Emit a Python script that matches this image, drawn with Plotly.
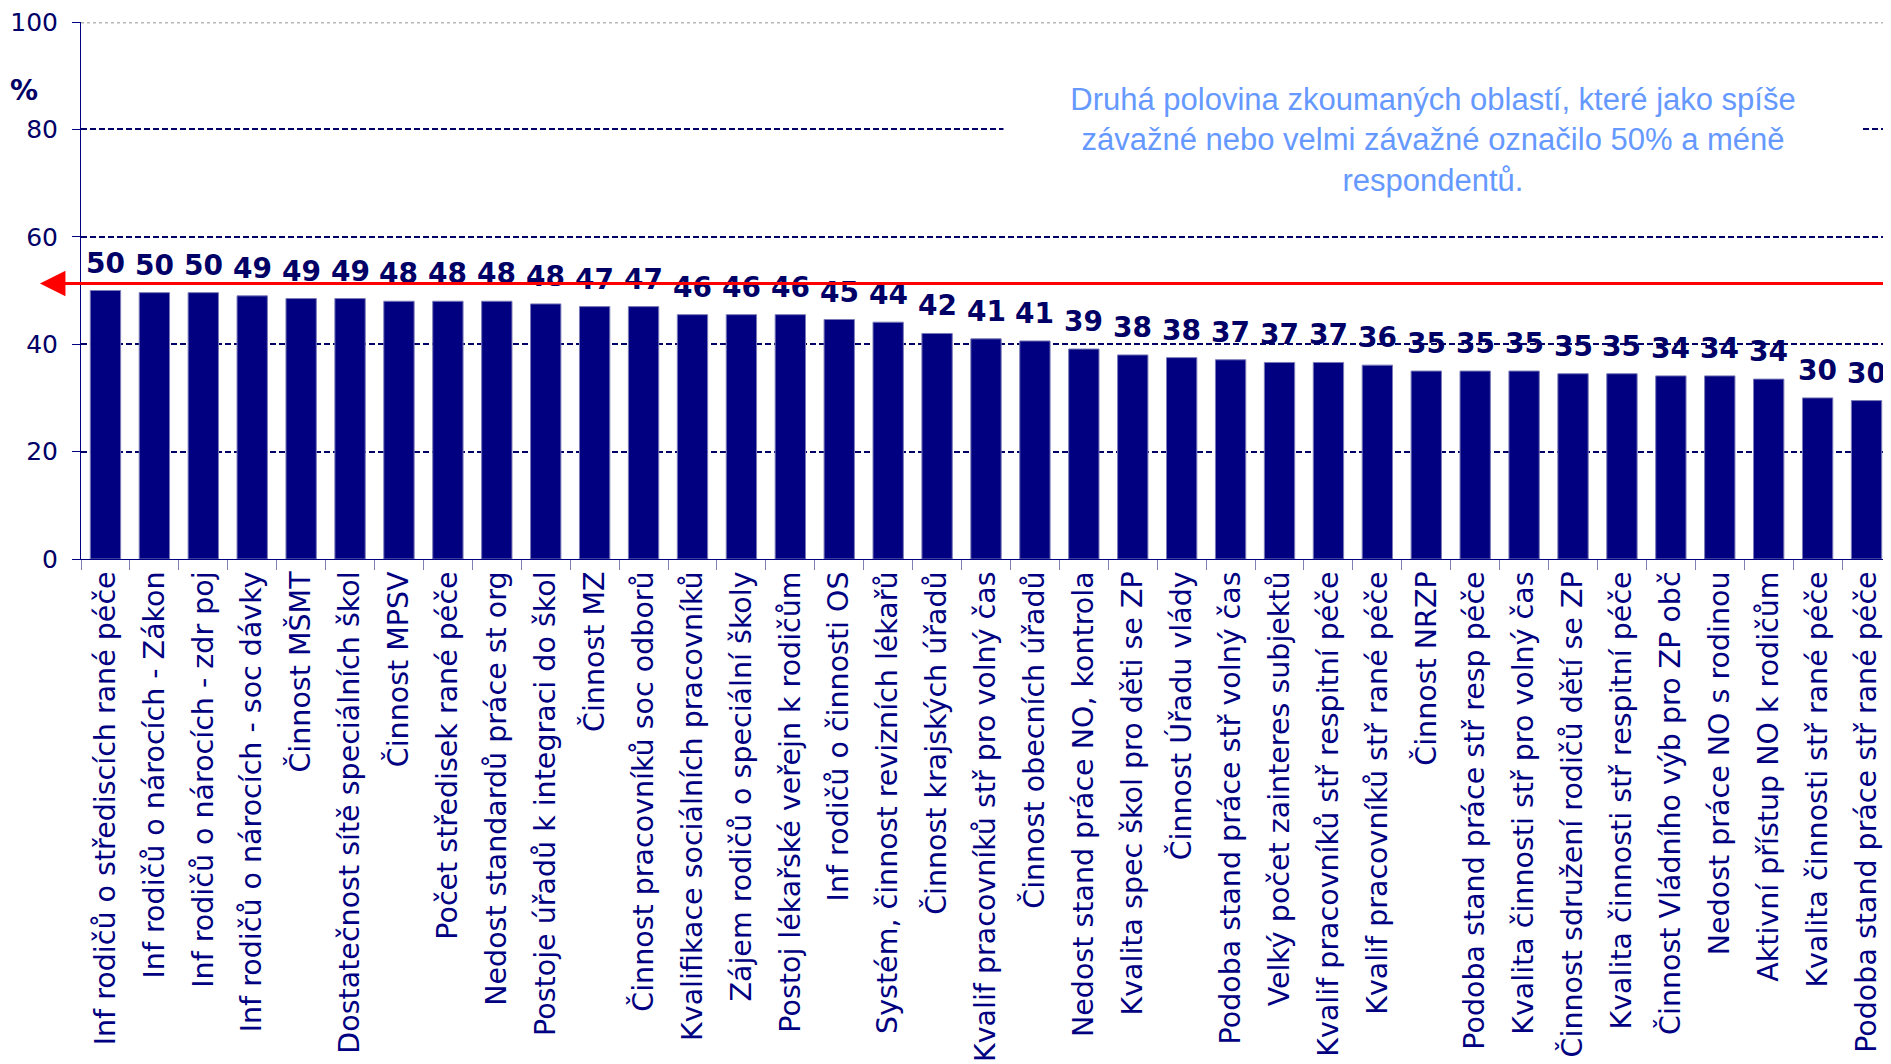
import plotly.graph_objects as go

categories = [
    "Inf rodičů o střediscích rané péče",
    "Inf rodičů o nárocích - Zákon",
    "Inf rodičů o nárocích - zdr poj",
    "Inf rodičů o nárocích - soc dávky",
    "Činnost MŠMT",
    "Dostatečnost sítě speciálních škol",
    "Činnost MPSV",
    "Počet středisek rané péče",
    "Nedost standardů práce st org",
    "Postoje úřadů k integraci do škol",
    "Činnost MZ",
    "Činnost pracovníků soc odborů",
    "Kvalifikace sociálních pracovníků",
    "Zájem rodičů o speciální školy",
    "Postoj lékařské veřejn k rodičům",
    "Inf rodičů o činnosti OS",
    "Systém, činnost revizních lékařů",
    "Činnost krajských úřadů",
    "Kvalif pracovníků stř pro volný čas",
    "Činnost obecních úřadů",
    "Nedost stand práce NO, kontrola",
    "Kvalita spec škol pro děti se ZP",
    "Činnost Úřadu vlády",
    "Podoba stand práce stř volný čas",
    "Velký počet zainteres subjektů",
    "Kvalif pracovníků stř respitní péče",
    "Kvalif pracovníků stř rané péče",
    "Činnost NRZP",
    "Podoba stand práce stř resp péče",
    "Kvalita činnosti stř pro volný čas",
    "Činnost sdružení rodičů dětí se ZP",
    "Kvalita činnosti stř respitní péče",
    "Činnost Vládního výb pro ZP obč",
    "Nedost práce NO s rodinou",
    "Aktivní přístup NO k rodičům",
    "Kvalita činnosti stř rané péče",
    "Podoba stand práce stř rané péče",
]

values = [50.0, 49.6, 49.6, 49.0, 48.5, 48.5, 48.0, 48.0, 48.0, 47.5, 47.0, 47.0,
          45.5, 45.5, 45.5, 44.6, 44.1, 42.0, 41.0, 40.6, 39.1, 38.0, 37.5, 37.1,
          36.6, 36.6, 36.1, 35.0, 35.0, 35.0, 34.5, 34.5, 34.1, 34.1, 33.5, 30.0, 29.5]

value_labels = [50, 50, 50, 49, 49, 49, 48, 48, 48, 48, 47, 47, 46, 46, 46, 45, 44,
                42, 41, 41, 39, 38, 38, 37, 37, 37, 36, 35, 35, 35, 35, 35, 34, 34,
                34, 30, 30]

y_ticks = [0, 20, 40, 60, 80, 100]
threshold = 51.3

note_text = ("Druhá polovina zkoumaných oblastí, které jako spíše<br>"
             "závažné nebo velmi závažné označilo 50% a méně<br>"
             "respondentů.")

NAVY = "#000080"
LABEL = "#000066"

fig = go.Figure()
fig.add_trace(go.Bar(
    x=categories, y=values,
    marker=dict(color=NAVY, line=dict(color="#7a7ab8", width=1)),
    hoverinfo="x+y",
))

for c, v, lab in zip(categories, values, value_labels):
    fig.add_annotation(
        x=c, y=v, xref="x", yref="y", text=str(lab), showarrow=False,
        yanchor="bottom", yshift=9,
        font=dict(family="DejaVu Sans", size=28, color=LABEL, weight="bold"),
    )

# top border line at 100
fig.add_shape(type="line", xref="paper", yref="y", x0=0, x1=1, y0=100, y1=100,
              line=dict(color="#b8b8b8", width=3, dash="dot"), layer="above")

# red threshold arrow
fig.add_annotation(
    x=-0.0227, y=threshold, xref="paper", yref="y",
    ax=1860, ay=0, axref="pixel", ayref="pixel",
    showarrow=True, arrowhead=2, arrowsize=1.7, arrowwidth=3, arrowcolor="#ff0000",
    text="",
)

# note box
fig.add_annotation(
    x=0.747, y=0.781, xref="paper", yref="paper", text=note_text, showarrow=False,
    xanchor="center", yanchor="middle",
    align="center", bgcolor="white", width=850, borderpad=4,
    font=dict(family="Liberation Sans, Arial", size=31, color="#6699ff"),
)

# % label
fig.add_annotation(
    x=-0.0315, y=0.872, xref="paper", yref="paper", text="%", showarrow=False,
    xanchor="center", yanchor="middle",
    font=dict(family="DejaVu Sans", size=28, color=LABEL, weight="bold"),
)

fig.update_layout(
    width=1883, height=1056,
    margin=dict(l=73, r=0, t=14, b=505, autoexpand=False),
    paper_bgcolor="white", plot_bgcolor="white",
    bargap=0.38, showlegend=False,
    font=dict(family="DejaVu Sans", color=NAVY),
)
fig.update_yaxes(
    range=[0, 100], tickvals=y_ticks, ticks="outside", ticklen=8, tickcolor=NAVY,
    showline=True, linecolor=NAVY, linewidth=1, automargin=False,
    showgrid=True, gridcolor=LABEL, griddash="6px,3px", gridwidth=2,
    zeroline=False, tickfont=dict(size=25, color=LABEL, family="DejaVu Sans"),
    ticklabelstandoff=9, ticklabeloverflow="allow",
)
fig.update_xaxes(
    tickangle=-90, tickson="boundaries", ticks="outside", ticklen=10, tickcolor="#8080b0",
    showline=True, linecolor=NAVY, linewidth=1, showgrid=False, automargin=False,
    tickfont=dict(size=28.5, color=NAVY, family="DejaVu Sans"),
    ticklabeloverflow="allow",
)

fig.write_html("out.html")
